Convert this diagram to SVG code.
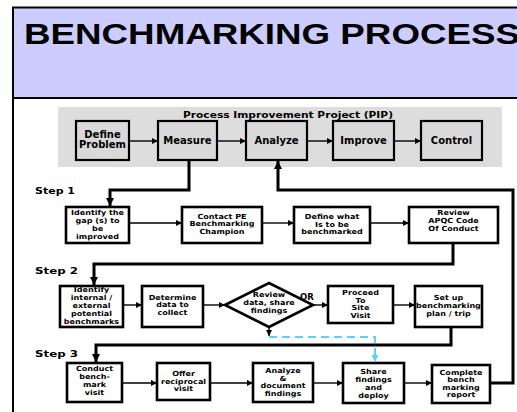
<svg xmlns="http://www.w3.org/2000/svg" width="517" height="412" viewBox="0 0 517 412">
  <defs>
    <style>
      .box { fill: #ffffff; stroke: #000000; stroke-width: 2.6; }
      .pbox { fill: #d9d9d9; stroke: #000000; stroke-width: 2.2; }
      .t { font-family: "DejaVu Sans", "Liberation Sans", sans-serif; font-weight: bold; font-size: 7px; text-anchor: middle; fill: #000000; }
      .pt { font-family: "DejaVu Sans", "Liberation Sans", sans-serif; font-weight: bold; font-size: 10px; text-anchor: middle; fill: #000000; }
      .lbl { font-family: "DejaVu Sans", "Liberation Sans", sans-serif; font-weight: bold; font-size: 8.5px; fill: #000000; }
      .link { fill: none; stroke: #000000; stroke-width: 1.4; marker-end: url(#arrowS); }
      .routeA { fill: none; stroke: #000000; stroke-width: 3; marker-end: url(#arrowL); }
      .dash { fill: none; stroke: #66ccff; stroke-width: 2; stroke-dasharray: 8 5; marker-end: url(#arrowB); }
    </style>
    <marker id="arrowS" markerUnits="userSpaceOnUse" viewBox="0 0 10 10" refX="10" refY="5" markerWidth="7" markerHeight="6" orient="auto">
      <path d="M0,0 L10,5 L0,10 Z" fill="#000000"/>
    </marker>
    <marker id="arrowL" markerUnits="userSpaceOnUse" viewBox="0 0 10 10" refX="10" refY="5" markerWidth="8" markerHeight="8" orient="auto">
      <path d="M0,0 L10,5 L0,10 Z" fill="#000000"/>
    </marker>
    <marker id="arrowB" markerUnits="userSpaceOnUse" viewBox="0 0 10 10" refX="10" refY="5" markerWidth="7" markerHeight="8" orient="auto">
      <path d="M0,0 L10,5 L0,10 Z" fill="#66ccff"/>
    </marker>
  </defs>

  <!-- page -->
  <rect x="0" y="0" width="517" height="412" fill="#ffffff"/>
  <rect x="13" y="7.5" width="520" height="90.5" fill="#ccccff" stroke="#000000" stroke-width="2"/>
  <line x1="13" y1="98" x2="13" y2="412" stroke="#000000" stroke-width="2"/>
  <text x="24" y="44" font-family="'Liberation Sans', Arial, sans-serif" font-weight="bold" font-size="29" textLength="496" lengthAdjust="spacingAndGlyphs">BENCHMARKING PROCESS</text>

  <!-- PIP band -->
  <rect x="58" y="107" width="444" height="60" fill="#dddddd"/>
  <text x="288" y="117.5" class="lbl" text-anchor="middle" font-size="8" textLength="210" lengthAdjust="spacingAndGlyphs">Process Improvement Project (PIP)</text>

  <g id="define-problem">
    <rect class="pbox" x="76" y="121" width="53" height="39"/>
    <text class="pt" font-size="9.5"><tspan x="102.5" y="137.5">Define</tspan><tspan x="102.5" y="147.5">Problem</tspan></text>
  </g>
  <g id="measure">
    <rect class="pbox" x="158" y="121" width="59" height="39"/>
    <text class="pt" x="187.5" y="144">Measure</text>
  </g>
  <g id="analyze">
    <rect class="pbox" x="246" y="121" width="61" height="39"/>
    <text class="pt" x="276.5" y="144">Analyze</text>
  </g>
  <g id="improve">
    <rect class="pbox" x="333" y="121" width="61" height="39"/>
    <text class="pt" x="363.5" y="144">Improve</text>
  </g>
  <g id="control">
    <rect class="pbox" x="421" y="121" width="61" height="39"/>
    <text class="pt" x="451.5" y="144">Control</text>
  </g>

  <!-- step labels -->
  <text class="lbl" x="35" y="193.5" textLength="40" lengthAdjust="spacingAndGlyphs">Step 1</text>
  <text class="lbl" x="35" y="273.5" textLength="43" lengthAdjust="spacingAndGlyphs">Step 2</text>
  <text class="lbl" x="35" y="357" textLength="43" lengthAdjust="spacingAndGlyphs">Step 3</text>

  <!-- step 1 -->
  <g id="identify-gap">
    <rect class="box" x="66" y="207" width="63" height="36"/>
    <g transform="translate(97.5 0) scale(1.15 1)">
      <text class="t" font-size="6.6"><tspan x="0" y="215">Identify the</tspan><tspan x="0" y="223">gap (s) to</tspan><tspan x="0" y="231">be</tspan><tspan x="0" y="239">improved</tspan></text>
    </g>
  </g>
  <g id="contact-pe">
    <rect class="box" x="182" y="207" width="80" height="36"/>
    <g transform="translate(222 0) scale(1.15 1)">
      <text class="t"><tspan x="0" y="219">Contact PE</tspan><tspan x="0" y="226.5">Benchmarking</tspan><tspan x="0" y="234">Champion</tspan></text>
    </g>
  </g>
  <g id="define-what">
    <rect class="box" x="294" y="207" width="76" height="36"/>
    <g transform="translate(332 0) scale(1.15 1)">
      <text class="t"><tspan x="0" y="219.5">Define what</tspan><tspan x="0" y="227">Is to be</tspan><tspan x="0" y="234.5">benchmarked</tspan></text>
    </g>
  </g>
  <g id="review-apqc">
    <rect class="box" x="409" y="207" width="89" height="36"/>
    <g transform="translate(453.5 0) scale(1.15 1)">
      <text class="t"><tspan x="0" y="215.5">Review</tspan><tspan x="0" y="223.5">APQC Code</tspan><tspan x="0" y="231.5">Of Conduct</tspan></text>
    </g>
  </g>

  <!-- step 2 -->
  <g id="identify-benchmarks">
    <rect class="box" x="60" y="286" width="63" height="41"/>
    <g transform="translate(91.5 0) scale(1.15 1)">
      <text class="t"><tspan x="0" y="292">Identify</tspan><tspan x="0" y="300">internal /</tspan><tspan x="0" y="308.5">external</tspan><tspan x="0" y="316.5">potential</tspan><tspan x="0" y="324.5">benchmarks</tspan></text>
    </g>
  </g>
  <g id="determine-data">
    <rect class="box" x="142" y="286" width="61" height="41"/>
    <g transform="translate(172.5 0) scale(1.15 1)">
      <text class="t"><tspan x="0" y="300">Determine</tspan><tspan x="0" y="307.5">data to</tspan><tspan x="0" y="315">collect</tspan></text>
    </g>
  </g>
  <g id="review-data">
    <path class="box" d="M225,305 L269,283 L313,305 L269,327 Z"/>
    <g transform="translate(269 0) scale(1.15 1)">
      <text class="t"><tspan x="0" y="297.5">Review</tspan><tspan x="0" y="305.5">data, share</tspan><tspan x="0" y="313.5">findings</tspan></text>
    </g>
  </g>
  <text class="lbl" x="300" y="300" font-size="8.5">OR</text>
  <g id="site-visit">
    <rect class="box" x="328" y="286" width="65" height="37"/>
    <g transform="translate(360.5 0) scale(1.15 1)">
      <text class="t"><tspan x="0" y="295.5">Proceed</tspan><tspan x="0" y="303">To</tspan><tspan x="0" y="310.5">Site</tspan><tspan x="0" y="318">Visit</tspan></text>
    </g>
  </g>
  <g id="setup-plan">
    <rect class="box" x="415" y="286" width="67" height="41"/>
    <g transform="translate(448.5 0) scale(1.15 1)">
      <text class="t"><tspan x="0" y="300.5">Set  up</tspan><tspan x="0" y="308.5">benchmarking</tspan><tspan x="0" y="316">plan / trip</tspan></text>
    </g>
  </g>

  <!-- step 3 -->
  <g id="conduct-visit">
    <rect class="box" x="67" y="363" width="55" height="39"/>
    <g transform="translate(94.5 0) scale(1.15 1)">
      <text class="t"><tspan x="0" y="371.5">Conduct</tspan><tspan x="0" y="379.5">bench-</tspan><tspan x="0" y="387.5">mark</tspan><tspan x="0" y="395">visit</tspan></text>
    </g>
  </g>
  <g id="offer-visit">
    <rect class="box" x="157" y="363" width="53" height="37"/>
    <g transform="translate(183.5 0) scale(1.15 1)">
      <text class="t"><tspan x="0" y="376.5">Offer</tspan><tspan x="0" y="384">reciprocal</tspan><tspan x="0" y="391.5">visit</tspan></text>
    </g>
  </g>
  <g id="analyze-document">
    <rect class="box" x="253" y="363" width="60" height="39"/>
    <g transform="translate(283 0) scale(1.15 1)">
      <text class="t"><tspan x="0" y="373.5">Analyze</tspan><tspan x="0" y="381">&amp;</tspan><tspan x="0" y="388.5">document</tspan><tspan x="0" y="396">findings</tspan></text>
    </g>
  </g>
  <g id="share-findings">
    <rect class="box" x="343" y="363" width="61" height="40"/>
    <g transform="translate(373.5 0) scale(1.15 1)">
      <text class="t"><tspan x="0" y="374">Share</tspan><tspan x="0" y="382">findings</tspan><tspan x="0" y="390">and</tspan><tspan x="0" y="398">deploy</tspan></text>
    </g>
  </g>
  <g id="complete-report">
    <rect class="box" x="432" y="365" width="58" height="38"/>
    <g transform="translate(461 0) scale(1.15 1)">
      <text class="t"><tspan x="0" y="375">Complete</tspan><tspan x="0" y="382.5">bench</tspan><tspan x="0" y="390">marking</tspan><tspan x="0" y="397.5">report</tspan></text>
    </g>
  </g>

  <!-- connectors -->
  <g id="connectors">
    <!-- PIP chain -->
    <line class="link" x1="129" y1="141" x2="158" y2="141"/>
    <line class="link" x1="217" y1="141" x2="246" y2="141"/>
    <line class="link" x1="307" y1="141" x2="333" y2="141"/>
    <line class="link" x1="394" y1="141" x2="421" y2="141"/>

    <!-- Measure into step 1 -->
    <polyline class="routeA" points="189,160 189,190 110,190 110,206"/>
    <!-- return from the report up into Analyze -->
    <polyline class="routeA" points="490,383 513,383 513,190 278,190 278,161"/>

    <!-- step 1 chain -->
    <line class="link" x1="129" y1="223" x2="182" y2="223"/>
    <line class="link" x1="262" y1="223" x2="294" y2="223"/>
    <line class="link" x1="370" y1="223" x2="409" y2="223"/>
    <polyline class="routeA" points="453,243 453,264 94,264 94,285"/>

    <!-- step 2 chain -->
    <line class="link" x1="123" y1="305" x2="142" y2="305"/>
    <line class="link" x1="203" y1="305" x2="225" y2="305"/>
    <line class="link" x1="313" y1="305" x2="328" y2="305"/>
    <line class="link" x1="393" y1="305" x2="415" y2="305"/>
    <line class="link" x1="269" y1="327" x2="269" y2="336"/>
    <polyline class="dash" points="269,337 375,337 375,362"/>
    <polyline class="routeA" points="451,327 451,345 96,345 96,362"/>

    <!-- step 3 chain -->
    <line class="link" x1="122" y1="383" x2="157" y2="383"/>
    <line class="link" x1="210" y1="383" x2="253" y2="383"/>
    <line class="link" x1="313" y1="383" x2="343" y2="383"/>
    <line class="link" x1="404" y1="383" x2="432" y2="383"/>
  </g>
</svg>
